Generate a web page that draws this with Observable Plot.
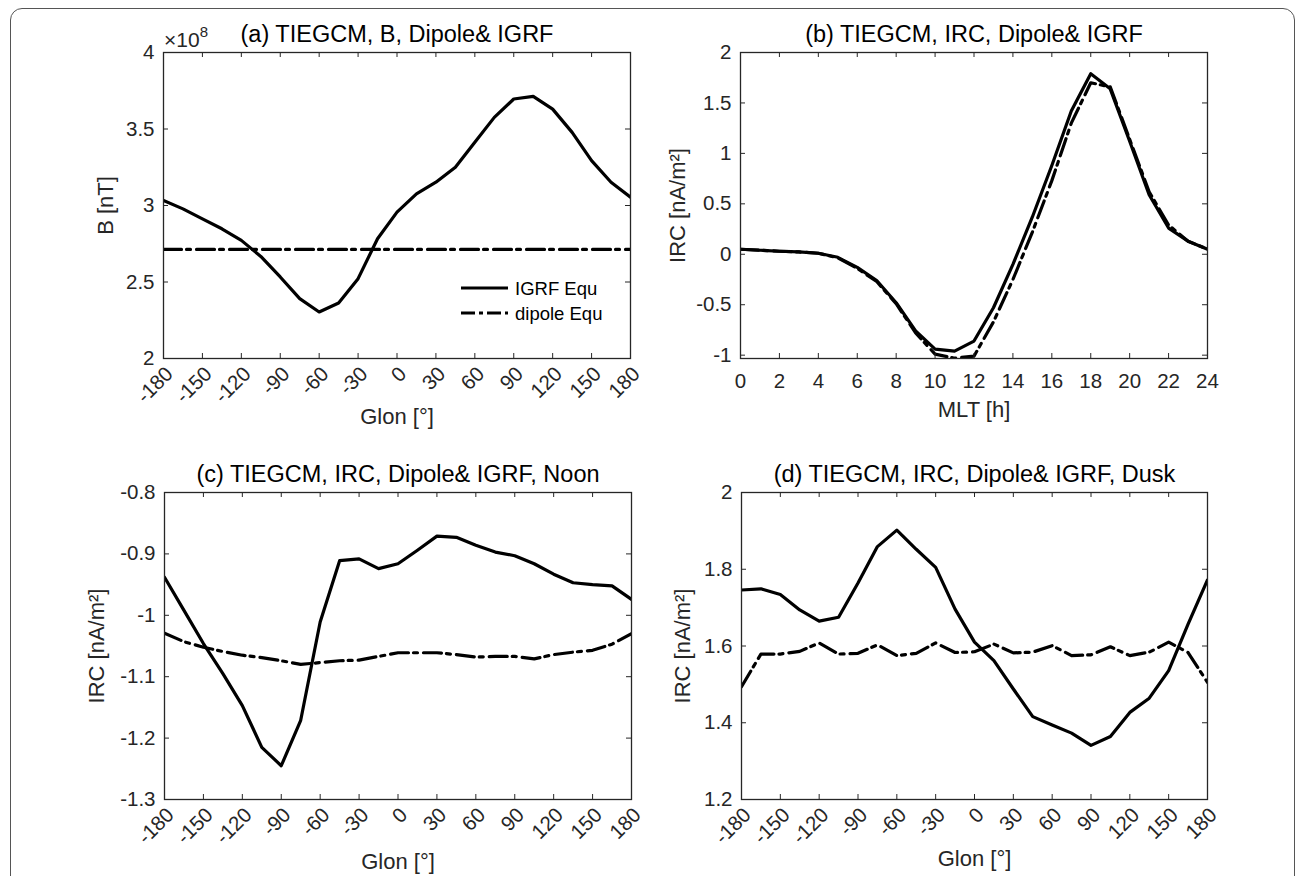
<!DOCTYPE html>
<html><head><meta charset="utf-8">
<script src="https://cdn.jsdelivr.net/npm/d3@7"></script>
<script src="https://cdn.jsdelivr.net/npm/@observablehq/plot@0.6"></script>
<style>
html,body{margin:0;padding:0;background:#fff;overflow:hidden;}
#wrap{position:relative;width:1295px;height:876px;overflow:hidden;font-family:"Liberation Sans",Arial,Helvetica,sans-serif;background:#fff;}
#border{position:absolute;left:10px;top:8px;width:1285px;height:900px;border:1px solid #555;border-radius:12px;box-sizing:border-box;}
.panel{position:absolute;}
</style></head><body><div id="wrap"><div id="border"></div></div>
<script>
// ---------- data ----------
const glon = [-180,-165,-150,-135,-120,-105,-90,-75,-60,-45,-30,-15,0,15,30,45,60,75,90,105,120,135,150,165,180];
const glonTicks = [-180,-150,-120,-90,-60,-30,0,30,60,90,120,150,180];

// (a) B [nT], in units of 1e8
const bIGRF = [3.033,2.978,2.913,2.848,2.772,2.667,2.533,2.391,2.304,2.363,2.522,2.783,2.957,3.076,3.152,3.25,3.413,3.576,3.696,3.713,3.63,3.478,3.293,3.152,3.054];
const bDipole = [2.713,2.713,2.713,2.713,2.713,2.713,2.713,2.713,2.713,2.713,2.713,2.713,2.713,2.713,2.713,2.713,2.713,2.713,2.713,2.713,2.713,2.713,2.713,2.713,2.713];
const aYTicks = [2,2.5,3,3.5,4];

// (b) IRC vs MLT
const mlt = [0,1,2,3,4,5,6,7,8,9,10,11,12,13,14,15,16,17,18,19,20,21,22,23,24];
const mltTicks = [0,2,4,6,8,10,12,14,16,18,20,22,24];
const ircMltIGRF = [0.05,0.04,0.03,0.023,0.01,-0.03,-0.13,-0.26,-0.48,-0.76,-0.94,-0.96,-0.86,-0.53,-0.10,0.37,0.88,1.42,1.79,1.64,1.12,0.59,0.26,0.13,0.05];
const ircMltDipole = [0.05,0.04,0.03,0.023,0.01,-0.035,-0.14,-0.27,-0.49,-0.78,-0.99,-1.03,-1.01,-0.67,-0.25,0.22,0.73,1.30,1.70,1.66,1.14,0.62,0.29,0.13,0.05];
const bYTicks = [-1,-0.5,0,0.5,1,1.5,2];

// (c) IRC at noon vs Glon
const noonIGRF = [-0.938,-0.992,-1.046,-1.095,-1.147,-1.215,-1.245,-1.171,-1.011,-0.911,-0.908,-0.924,-0.916,-0.894,-0.871,-0.873,-0.886,-0.897,-0.903,-0.916,-0.933,-0.947,-0.950,-0.952,-0.974];
const noonDipole = [-1.029,-1.043,-1.052,-1.059,-1.065,-1.069,-1.074,-1.080,-1.077,-1.074,-1.073,-1.067,-1.061,-1.061,-1.061,-1.064,-1.068,-1.067,-1.067,-1.071,-1.064,-1.060,-1.057,-1.047,-1.030];
const cYTicks = [-1.3,-1.2,-1.1,-1,-0.9,-0.8];

// (d) IRC at dusk vs Glon
const duskIGRF = [1.746,1.749,1.734,1.694,1.665,1.675,1.764,1.859,1.902,1.852,1.805,1.696,1.610,1.562,1.488,1.416,1.394,1.373,1.341,1.364,1.427,1.464,1.536,1.657,1.772];
const duskDipole = [1.494,1.579,1.579,1.586,1.608,1.579,1.581,1.603,1.575,1.581,1.608,1.583,1.585,1.605,1.582,1.584,1.601,1.575,1.577,1.598,1.575,1.584,1.610,1.583,1.505];
const dYTicks = [1.2,1.4,1.6,1.8,2];

const legendLabels = ["IGRF Equ", "dipole Equ"];

// ---------- drawing ----------
const FONT = '"Liberation Sans", Arial, Helvetica, sans-serif';
const AX = "#262626";
const LW = 3.2;
const DASH = "18,5,4,6";
const fmt = d => String(d);

function panel(o) {
  const [mt, mr, mb, ml] = o.margins;
  const fw = o.width - ml - mr, fh = o.height - mt - mb;
  const [x0, x1] = o.xDomain, [y0, y1] = o.yDomain;
  const tx = (x1 - x0) * 5 / fw, ty = (y1 - y0) * 5 / fh;
  const rows = (xs, ys) => xs.map((x, i) => ({x, y: ys[i]}));
  const chart = Plot.plot({
    width: o.width, height: o.height,
    marginTop: mt, marginRight: mr, marginBottom: mb, marginLeft: ml,
    x: {domain: o.xDomain},
    y: {domain: o.yDomain},
    style: {fontFamily: FONT, fontSize: "20px", color: AX, background: "transparent", overflow: "visible"},
    marks: [
      Plot.line(rows(o.x, o.solid), {x: "x", y: "y", stroke: "black", strokeWidth: LW, strokeLinejoin: "round", clip: true}),
      Plot.line(rows(o.x, o.dashed), {x: "x", y: "y", stroke: "black", strokeWidth: LW, strokeDasharray: DASH, strokeLinejoin: "round", clip: true}),
      Plot.ruleX(o.xTicks, {x: d => d, y1: y0, y2: y0 + ty, stroke: AX, strokeWidth: 1}),
      Plot.ruleX(o.xTicks, {x: d => d, y1: y1, y2: y1 - ty, stroke: AX, strokeWidth: 1}),
      Plot.ruleY(o.yTicks, {y: d => d, x1: x0, x2: x0 + tx, stroke: AX, strokeWidth: 1}),
      Plot.ruleY(o.yTicks, {y: d => d, x1: x1, x2: x1 - tx, stroke: AX, strokeWidth: 1}),
      Plot.frame({stroke: AX, strokeWidth: 1.3}),
      Plot.axisX(o.xTicks, o.rotate
        ? {tickSize: 0, tickPadding: 12, tickRotate: -45, dx: 6, tickFormat: fmt, fontSize: 20.5, label: null}
        : {tickSize: 0, tickPadding: 15, tickFormat: fmt, fontSize: 20.5, label: null}),
      Plot.axisY(o.yTicks, {tickSize: 0, tickPadding: 9, tickFormat: fmt, fontSize: 20.5, label: null}),
      Plot.text([o.title], {frameAnchor: "top", dy: -18, lineAnchor: "middle", textAnchor: "middle", fontSize: 23.5, fill: "black"}),
      Plot.text([o.xLabel], {frameAnchor: "bottom", dy: o.xLabelDy, lineAnchor: "middle", textAnchor: "middle", fontSize: 22, fill: AX}),
      Plot.text([o.yLabel], {frameAnchor: "left", dx: o.yLabelDx, rotate: -90, lineAnchor: "middle", textAnchor: "middle", fontSize: 22, fill: AX})
    ]
  });
  chart.classList.add("panel");
  chart.style.left = o.left + "px";
  chart.style.top = o.top + "px";
  document.getElementById("wrap").appendChild(chart);
}

panel({left: 0, top: 0, width: 647, height: 440, margins: [52, 17, 82, 163],
  xDomain: [-180, 180], yDomain: [2, 4], xTicks: glonTicks, yTicks: aYTicks, rotate: true,
  x: glon, solid: bIGRF, dashed: bDipole,
  title: "(a) TIEGCM, B, Dipole& IGRF", xLabel: "Glon [°]", xLabelDy: 58, yLabel: "B [nT]", yLabelDx: -58});

panel({left: 647, top: 0, width: 648, height: 440, margins: [52, 88, 82, 93],
  xDomain: [0, 24], yDomain: [-1.033, 2], xTicks: mltTicks, yTicks: bYTicks, rotate: false,
  x: mlt, solid: ircMltIGRF, dashed: ircMltDipole,
  title: "(b) TIEGCM, IRC, Dipole& IGRF", xLabel: "MLT [h]", xLabelDy: 51, yLabel: "IRC [nA/m²]", yLabelDx: -63});

panel({left: 0, top: 440, width: 647, height: 436, margins: [52, 16, 77, 164],
  xDomain: [-180, 180], yDomain: [-1.3, -0.8], xTicks: glonTicks, yTicks: cYTicks, rotate: true,
  x: glon, solid: noonIGRF, dashed: noonDipole,
  title: "(c) TIEGCM, IRC, Dipole& IGRF, Noon", xLabel: "Glon [°]", xLabelDy: 62, yLabel: "IRC [nA/m²]", yLabelDx: -68});

panel({left: 647, top: 440, width: 648, height: 436, margins: [52, 88, 77, 94],
  xDomain: [-180, 180], yDomain: [1.2, 2], xTicks: glonTicks, yTicks: dYTicks, rotate: true,
  x: glon, solid: duskIGRF, dashed: duskDipole,
  title: "(d) TIEGCM, IRC, Dipole& IGRF, Dusk", xLabel: "Glon [°]", xLabelDy: 59, yLabel: "IRC [nA/m²]", yLabelDx: -59});

// overlay: exponent label and legend of panel (a)
const ov = d3.select("#wrap").append("svg")
  .attr("width", 1295).attr("height", 876)
  .style("position", "absolute").style("left", 0).style("top", 0)
  .style("font-family", FONT);
const exp = ov.append("text").attr("x", 164).attr("y", 47).attr("font-size", 21).attr("fill", AX).text("×10");
exp.append("tspan").attr("dy", -10).attr("font-size", 15).text("8");

const lg = ov.append("g");
legendLabels.forEach((lab, i) => {
  const yy = 288 + i * 25;
  lg.append("line").attr("x1", 461).attr("x2", 508).attr("y1", yy).attr("y2", yy)
    .attr("stroke", "black").attr("stroke-width", LW)
    .attr("stroke-dasharray", i === 1 ? "14,4,4,4" : null);
  lg.append("text").attr("x", 515).attr("y", yy + 6.5).attr("font-size", 18.5).attr("fill", "black").text(lab);
});
</script>
</body></html>
